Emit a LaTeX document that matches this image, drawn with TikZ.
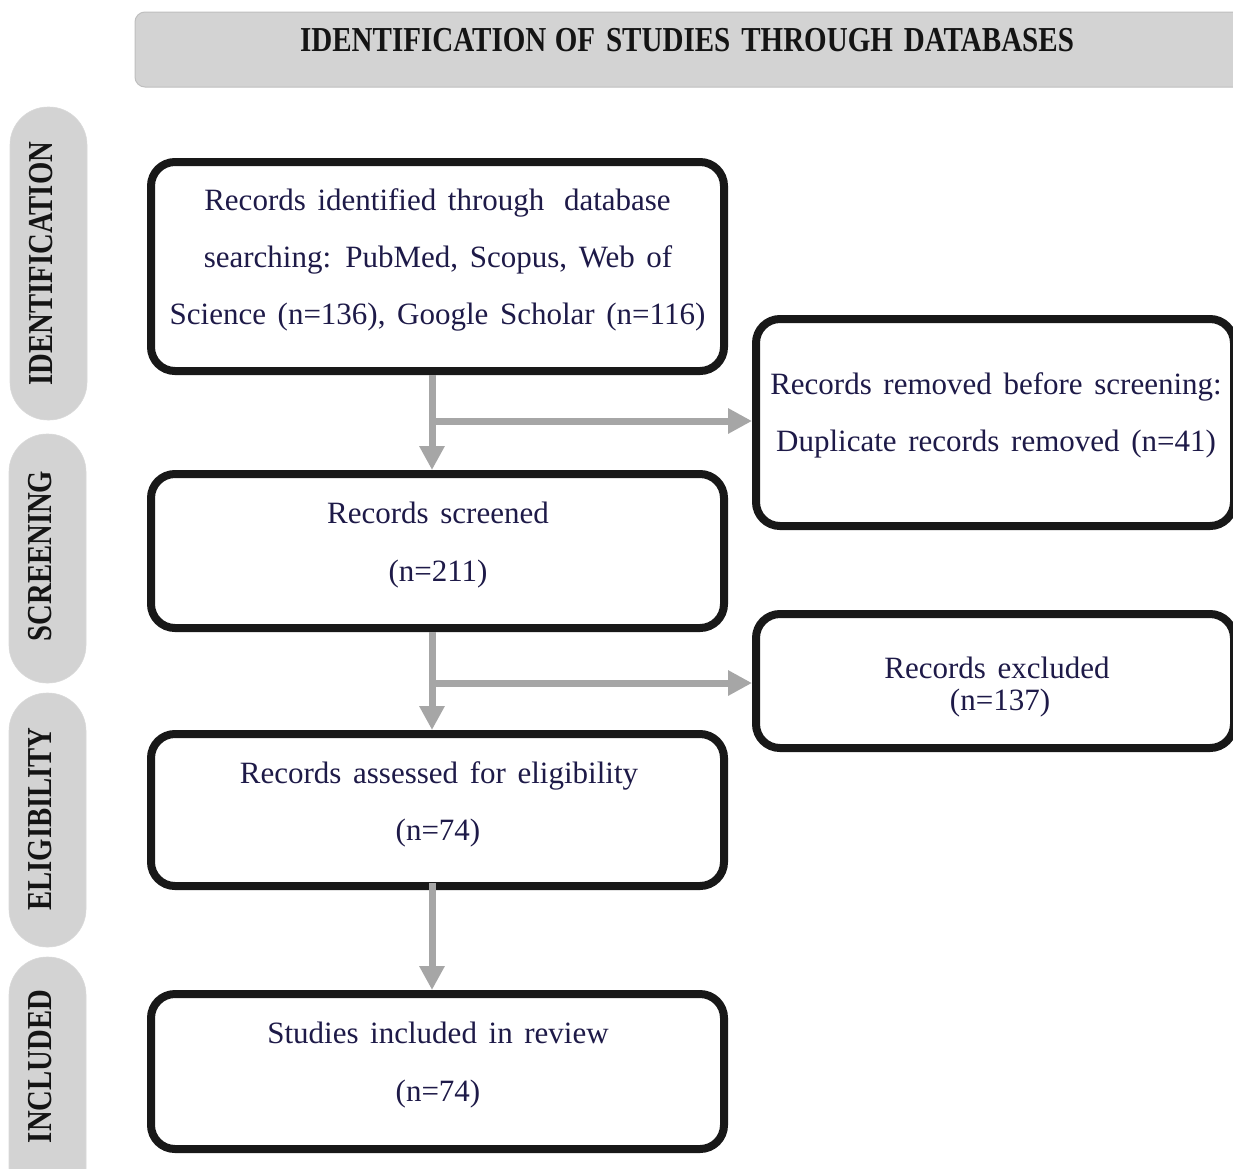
\documentclass[tikz,border=0pt]{standalone}
\usepackage{fontspec}
\setmainfont{Liberation Serif}[WordSpace=1.5]
\usetikzlibrary{arrows.meta}
\definecolor{navy}{RGB}{30,26,72}
\definecolor{pillgray}{RGB}{211,211,211}
\definecolor{arrgray}{RGB}{166,166,166}
\definecolor{boxblack}{RGB}{24,24,24}
\begin{document}
\begin{tikzpicture}[x=1pt,y=-1pt,
  box/.style={draw=boxblack, line width=8pt, rounded corners=24pt, fill=white, inner sep=0pt},
  txt/.style={font=\fontsize{31}{37}\selectfont, text=navy, anchor=base, inner sep=0pt},
  pill/.style={fill=pillgray, draw=black!15, line width=0.6pt, rounded corners=38pt},
  lab/.style={font=\fontsize{35}{40}\selectfont\bfseries, text=black!92, inner sep=0pt},
  arr/.style={draw=arrgray, line width=7pt, -{Triangle[width=24pt,length=24pt]}},
]
\useasboundingbox (0,0) rectangle (1233,1168);
\fill[white] (0,0) rectangle (1233,1168);
\clip (0,0) rectangle (1233,1168);

% header
\draw[fill=pillgray, draw=black!25, line width=1pt, rounded corners=10pt] (135,12) rectangle (1260,87);
\node[lab] (hd) at (687,40) {\scalebox{0.83}[1]{IDENTIFICATION\hspace{-3pt} OF STUDIES THROUGH DATABASES}};

% side pills
\draw[pill] (10,107) rectangle (87,420);
\draw[pill] (9,434) rectangle (86,683);
\draw[pill] (9,693) rectangle (86,947);
\draw[pill] (9,957) rectangle (86,1240);
\node[lab, rotate=90] (pI) at (41,263.5) {\scalebox{0.82}[1]{IDENTIFICATION}};
\node[lab, rotate=90] (pS) at (40,556) {\scalebox{0.82}[1]{SCREENING}};
\node[lab, rotate=90] (pE) at (40,819) {\scalebox{0.82}[1]{ELIGIBILITY}};
\node[lab, rotate=90] (pN) at (40,1066.5) {\scalebox{0.82}[1]{INCLUDED}};

% boxes
\node[box, minimum width=573pt, minimum height=209pt] (b1) at (437.5,266.5) {};
\node[box, minimum width=478pt, minimum height=207pt] (b2) at (995,422.5) {};
\node[box, minimum width=573pt, minimum height=154pt] (b3) at (437.5,551) {};
\node[box, minimum width=478pt, minimum height=134pt] (b4) at (995,681) {};
\node[box, minimum width=573pt, minimum height=152pt] (b5) at (437.5,810) {};
\node[box, minimum width=573pt, minimum height=155pt] (b6) at (437.5,1071.5) {};

% texts
\node[txt] (t1a) at (437.5,210) {Records identified through\hspace{8pt} database};
\node[txt] (t1b) at (438,267) {searching: PubMed, Scopus, Web of};
\node[txt] (t1c) at (437.5,324) {Science (n=136), Google Scholar (n=116)};
\node[txt] (t2a) at (996,394) {Records removed before screening:};
\node[txt] (t2b) at (996,451) {Duplicate records removed (n=41)};
\node[txt] (t3a) at (438,523) {Records screened};
\node[txt] (t3b) at (438,581) {(n=211)};
\node[txt] (t4a) at (997,678) {Records excluded};
\node[txt] (t4b) at (1000,710) {(n=137)};
\node[txt] (t5a) at (439,783) {Records assessed for eligibility};
\node[txt] (t5b) at (438,840) {(n=74)};
\node[txt] (t6a) at (438,1043) {Studies included in review};
\node[txt] (t6b) at (438,1101) {(n=74)};

% connectors
\coordinate (ax) at (432,0);
\coordinate (j1) at (432,421);
\coordinate (j2) at (432,683);
\coordinate (s3) at (432,883);
\draw[arr] (j1) -- (j1 -| b2.west);
\draw[arr] (b1.south -| ax) -- (b3.north -| ax);
\draw[arr] (j2) -- (j2 -| b4.west);
\draw[arr] (b3.south -| ax) -- (b5.north -| ax);
\draw[arr] (s3) -- (b6.north -| ax);
\end{tikzpicture}
\end{document}
